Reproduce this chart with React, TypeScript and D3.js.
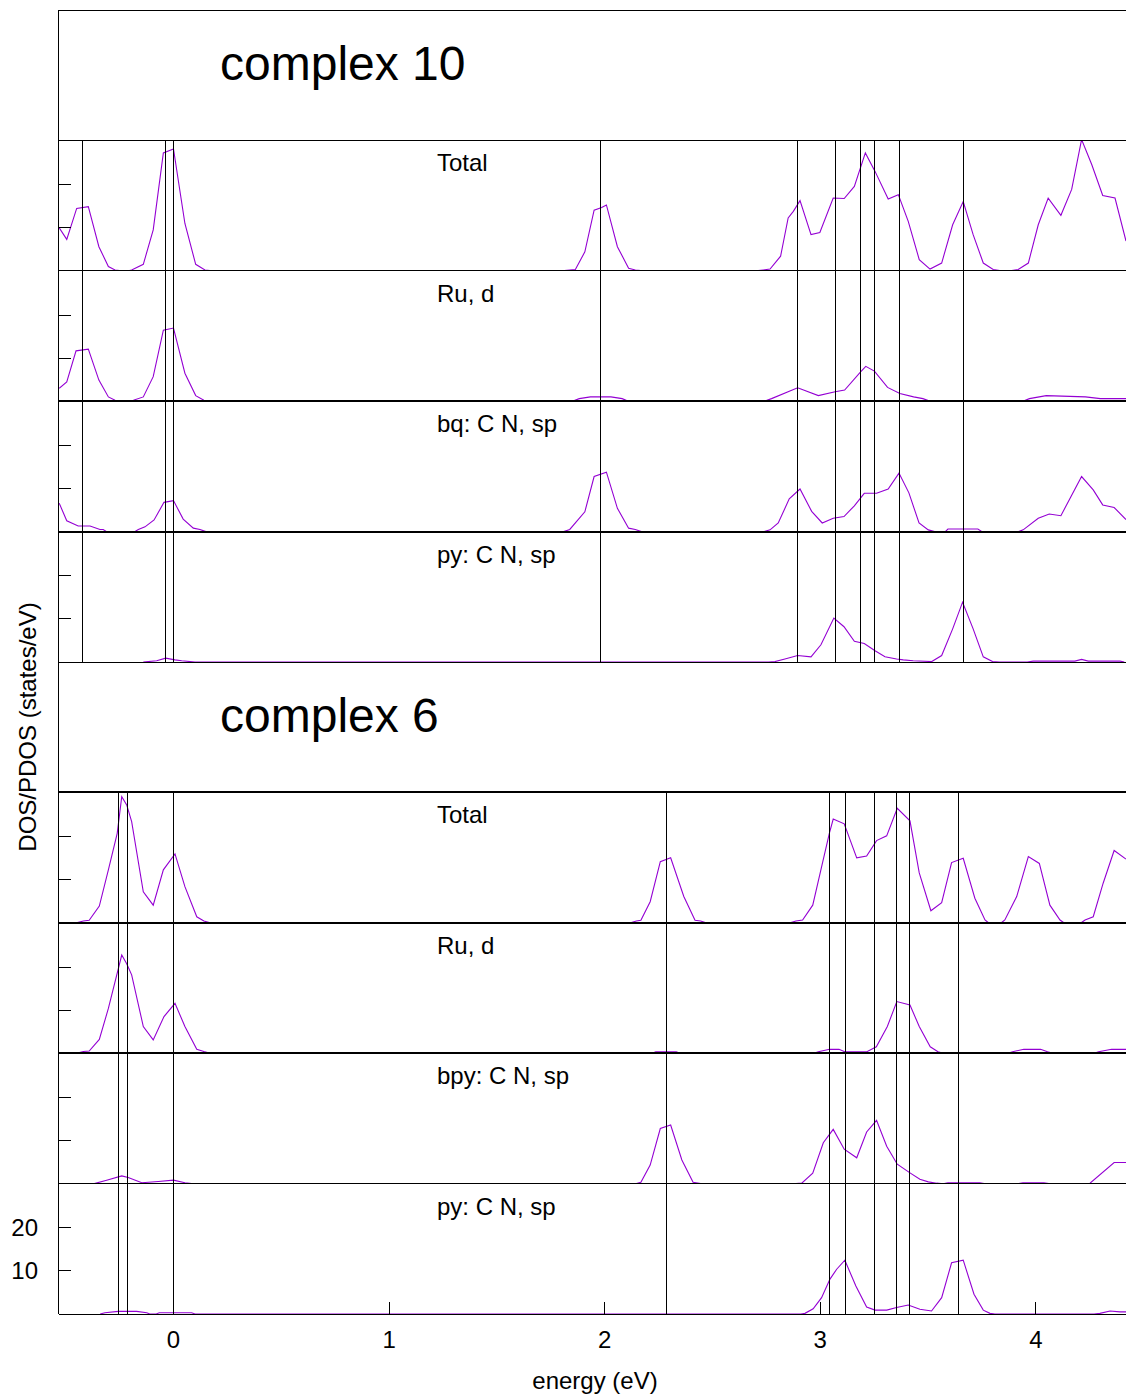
import React from 'react';
import * as d3 from 'd3';

type Pt = [number, number];

// ---------- tick / label data ----------
const energyTicks = [0, 1, 2, 3, 4];
const dosTicks = [10, 20];
const complexTitles = ['complex 10', 'complex 6'];
const c10Labels = ['Total', 'Ru, d', 'bq: C N, sp', 'py: C N, sp'];
const c6Labels = ['Total', 'Ru, d', 'bpy: C N, sp', 'py: C N, sp'];

// energy levels (eV) drawn as vertical lines
const c10Levels = [-0.421, -0.036, 0.0, 1.982, 2.896, 3.069, 3.187, 3.251, 3.369, 3.662];
const c6Levels = [-0.253, -0.212, 0.0, 2.289, 3.042, 3.118, 3.251, 3.354, 3.416, 3.641];

// ---------- complex 10 ----------
const c10Total: Pt[] = [
  [-0.530, 10.0], [-0.495, 7.3], [-0.449, 14.5], [-0.395, 14.9], [-0.346, 5.6], [-0.302, 1.0], [-0.271, 0.2], [-0.24, 0], [-0.21, 0],
  [-0.194, 0.2], [-0.140, 1.5], [-0.094, 9.5], [-0.047, 27.4], [0.000, 28.3], [0.053, 11.0], [0.103, 1.5], [0.146, 0.2], [0.18, 0],
  [1.80, 0], [1.838, 0.2], [1.864, 0.3], [1.908, 4.4], [1.951, 14.1], [1.986, 14.7], [2.008, 15.3], [2.059, 5.6], [2.111, 0.6], [2.142, 0.2], [2.18, 0],
  [2.70, 0], [2.735, 0.2], [2.767, 0.4], [2.816, 3.4], [2.851, 12.3], [2.875, 13.8], [2.906, 16.3], [2.957, 8.4], [2.998, 8.9], [3.060, 16.9],
  [3.111, 16.8], [3.158, 19.6], [3.209, 27.4], [3.254, 23.1], [3.315, 16.7], [3.362, 17.7], [3.408, 11.5], [3.459, 2.6], [3.509, 0.4],
  [3.563, 1.8], [3.614, 10.7], [3.663, 16.1], [3.709, 8.4], [3.756, 1.8], [3.802, 0.3], [3.84, 0], [3.88, 0], [3.918, 0.3], [3.965, 1.8],
  [4.011, 10.7], [4.057, 16.9], [4.116, 12.9], [4.166, 18.9], [4.212, 30.5], [4.259, 24.7], [4.310, 17.5], [4.367, 16.9], [4.418, 6.9],
];
const c10Ru: Pt[] = [
  [-0.530, 3.0], [-0.495, 4.5], [-0.452, 11.7], [-0.395, 12.1], [-0.346, 4.9], [-0.302, 1.0], [-0.271, 0.2], [-0.24, 0], [-0.20, 0],
  [-0.186, 0.2], [-0.140, 1.0], [-0.094, 5.7], [-0.047, 16.5], [0.000, 17.0], [0.053, 6.5], [0.103, 1.3], [0.141, 0.2], [0.17, 0],
  [1.85, 0], [1.882, 0.6], [1.934, 1.0], [2.029, 1.0], [2.081, 0.6], [2.11, 0],
  [2.74, 0], [2.774, 0.6], [2.895, 3.1], [2.991, 1.3], [3.069, 2.2], [3.113, 2.6], [3.187, 6.8], [3.211, 8.1], [3.251, 7.0], [3.312, 3.2],
  [3.369, 1.8], [3.433, 1.0], [3.476, 0.6], [3.51, 0],
  [3.94, 0], [3.970, 0.6], [4.048, 1.3], [4.230, 1.0], [4.299, 0.6], [4.418, 0.6],
];
const c10Bq: Pt[] = [
  [-0.530, 6.6], [-0.495, 2.5], [-0.442, 1.3], [-0.387, 1.3], [-0.341, 0.5], [-0.326, 0.5], [-0.31, 0], [-0.18, 0], [-0.163, 0.5],
  [-0.132, 1.1], [-0.090, 2.7], [-0.044, 6.8], [0.000, 7.2], [0.045, 2.9], [0.092, 0.8], [0.123, 0.5], [0.15, 0],
  [1.81, 0], [1.838, 0.5], [1.908, 4.6], [1.951, 12.8], [2.008, 13.8], [2.059, 5.4], [2.111, 0.8], [2.142, 0.5], [2.17, 0],
  [2.74, 0], [2.767, 0.4], [2.805, 2.0], [2.856, 7.6], [2.906, 9.9], [2.960, 4.7], [3.009, 2.0], [3.060, 3.1], [3.110, 3.5], [3.158, 6.0],
  [3.204, 8.9], [3.261, 8.9], [3.315, 9.9], [3.365, 13.6], [3.411, 9.0], [3.458, 2.0], [3.501, 0.4], [3.53, 0],
  [3.58, 0], [3.592, 0.6], [3.731, 0.6], [3.75, 0],
  [3.92, 0], [3.941, 0.4], [4.011, 3.1], [4.062, 4.1], [4.116, 3.7], [4.212, 12.8], [4.266, 9.7], [4.310, 6.2], [4.363, 5.6], [4.418, 2.8],
];
const c10Py: Pt[] = [
  [-0.14, 0], [-0.117, 0.1], [-0.078, 0.3], [-0.036, 0.9], [0.007, 0.5], [0.038, 0.3], [0.077, 0.1], [0.10, 0],
  [2.76, 0], [2.790, 0.1], [2.836, 0.7], [2.895, 1.5], [2.957, 1.2], [3.003, 4.0], [3.063, 10.2], [3.110, 8.2], [3.158, 4.8], [3.204, 4.3],
  [3.254, 2.6], [3.300, 1.2], [3.354, 0.7], [3.385, 0.5], [3.431, 0.3], [3.517, 0.1], [3.563, 1.5], [3.614, 7.7], [3.660, 13.9],
  [3.709, 7.7], [3.756, 1.2], [3.799, 0.1], [3.83, 0],
  [3.96, 0], [3.988, 0.2], [4.181, 0.2], [4.212, 0.6], [4.243, 0.2], [4.390, 0.2], [4.41, 0],
];

// ---------- complex 6 ----------
const c6Total: Pt[] = [
  [-0.45, 0], [-0.418, 0.4], [-0.391, 0.6], [-0.344, 3.9], [-0.302, 12.3], [-0.261, 20.8], [-0.240, 29.3], [-0.217, 27.4], [-0.194, 23.5],
  [-0.140, 7.2], [-0.094, 4.1], [-0.047, 12.3], [0.007, 16.0], [0.053, 8.4], [0.108, 1.4], [0.141, 0.4], [0.17, 0],
  [2.12, 0], [2.147, 0.4], [2.168, 0.6], [2.211, 4.9], [2.258, 14.2], [2.306, 15.1], [2.367, 6.1], [2.419, 0.6], [2.445, 0.4], [2.47, 0],
  [2.86, 0], [2.887, 0.4], [2.918, 0.65], [2.965, 4.1], [3.006, 13.0], [3.042, 20.8], [3.060, 24.1], [3.111, 23.0], [3.169, 15.1],
  [3.215, 15.5], [3.261, 19.1], [3.308, 20.2], [3.357, 26.6], [3.416, 23.7], [3.459, 11.6], [3.513, 2.8], [3.563, 4.7], [3.609, 14.0],
  [3.663, 15.0], [3.717, 5.7], [3.764, 0.65], [3.78, 0], [3.84, 0], [3.856, 0.65], [3.911, 6.1], [3.965, 15.4], [4.016, 13.8],
  [4.065, 4.1], [4.112, 0.65], [4.13, 0], [4.21, 0], [4.228, 0.65], [4.266, 1.4], [4.312, 9.2], [4.363, 16.8], [4.418, 14.8],
];
const c6Ru: Pt[] = [
  [-0.45, 0], [-0.418, 0.4], [-0.391, 0.5], [-0.344, 3.2], [-0.302, 10.4], [-0.261, 18.6], [-0.240, 22.8], [-0.217, 20.8], [-0.194, 18.2],
  [-0.140, 6.2], [-0.094, 3.1], [-0.044, 8.5], [0.007, 11.6], [0.053, 6.2], [0.108, 0.9], [0.141, 0.4], [0.17, 0],
  [2.22, 0], [2.237, 0.35], [2.332, 0.35], [2.35, 0],
  [2.97, 0], [2.991, 0.35], [3.043, 0.9], [3.087, 0.9], [3.113, 0.35], [3.216, 0.35], [3.260, 1.5], [3.311, 6.2], [3.355, 12.0],
  [3.416, 11.2], [3.459, 6.2], [3.510, 1.5], [3.546, 0.35], [3.57, 0],
  [3.87, 0], [3.892, 0.35], [3.944, 0.9], [4.022, 0.9], [4.054, 0.35], [4.08, 0],
  [4.27, 0], [4.291, 0.35], [4.351, 0.9], [4.418, 0.9],
];
const c6Bpy: Pt[] = [
  [-0.367, 0], [-0.310, 0.8], [-0.240, 1.8], [-0.210, 1.4], [-0.147, 0.2], [-0.070, 0.5], [0.000, 0.8], [0.053, 0.2], [0.084, 0],
  [2.147, 0], [2.168, 0.3], [2.211, 4.3], [2.258, 12.8], [2.306, 13.6], [2.358, 5.5], [2.410, 0.3], [2.445, 0],
  [2.887, 0], [2.914, 0.1], [2.965, 2.4], [3.014, 9.5], [3.060, 12.6], [3.111, 8.0], [3.169, 6.0], [3.215, 12.0], [3.261, 14.7],
  [3.308, 8.7], [3.357, 4.5], [3.416, 2.5], [3.462, 1.0], [3.501, 0.4], [3.540, 0.1], [3.56, 0],
  [3.575, 0], [3.592, 0.2], [3.740, 0.2], [3.76, 0],
  [3.92, 0], [3.940, 0.2], [4.037, 0.2], [4.06, 0],
  [4.24, 0], [4.251, 0.1], [4.363, 4.9], [4.418, 4.9],
];
const c6Py: Pt[] = [
  [-0.34, 0], [-0.318, 0.3], [-0.256, 0.6], [-0.171, 0.6], [-0.124, 0.3], [-0.11, 0], [-0.08, 0], [-0.066, 0.3], [0.084, 0.3], [0.10, 0],
  [2.91, 0], [2.929, 0.15], [2.967, 1.2], [3.006, 3.8], [3.045, 8.1], [3.076, 10.4], [3.114, 12.5], [3.165, 6.5], [3.215, 1.6],
  [3.254, 0.9], [3.308, 0.9], [3.354, 1.5], [3.408, 2.1], [3.462, 1.1], [3.516, 0.7], [3.563, 3.8], [3.609, 11.9], [3.663, 12.5],
  [3.713, 4.6], [3.756, 0.9], [3.787, 0.15], [3.81, 0],
  [4.27, 0], [4.297, 0.15], [4.344, 0.7], [4.390, 0.5], [4.418, 0.5],
];

// ---------- layout ----------
const W = 1126;
const H = 1399;
const LEFT = 59;
const TOP = 10;
const ROW = 130.4;
const PX_PER_EV = 215.6;
const E_MIN = -0.531;
const E_MAX = 4.5;
const Y_MAX = 30.3;
const FONT = '"Liberation Sans", Arial, Helvetica, sans-serif';
const PURPLE = '#9400d3';
const SMALL = 24;
const BIG = 48;
const borderWidths = [1, 1, 1, 2, 2, 1, 2, 2, 2, 1, 1];

export default function App() {
  const x = d3.scaleLinear().domain([E_MIN, E_MAX]).range([LEFT, LEFT + (E_MAX - E_MIN) * PX_PER_EV]);
  const rowTop = (i: number) => TOP + ROW * i;
  const yFor = (i: number) => d3.scaleLinear().domain([0, Y_MAX]).range([rowTop(i + 1), rowTop(i)]);

  const groups = [
    { title: complexTitles[0], titleRow: 0, labels: c10Labels, series: [c10Total, c10Ru, c10Bq, c10Py], levels: c10Levels },
    { title: complexTitles[1], titleRow: 5, labels: c6Labels, series: [c6Total, c6Ru, c6Bpy, c6Py], levels: c6Levels },
  ];

  const crisp1 = (v: number) => Math.floor(v) + 0.5;
  const lastRow = 9;

  return (
    <svg width={W} height={H} viewBox={`0 0 ${W} ${H}`}
      style={{ position: 'absolute', left: 0, top: 0, background: '#fff' }}
      fontFamily={FONT}>
      <rect x={0} y={0} width={W} height={H} fill="#fff" />
      <defs>
        {groups.map((g, gi) =>
          g.series.map((_, si) => {
            const r = g.titleRow + 1 + si;
            return (
              <clipPath id={`clip-${gi}-${si}`} key={`c-${gi}-${si}`}>
                <rect x={LEFT} y={rowTop(r)} width={W - LEFT} height={ROW} />
              </clipPath>
            );
          })
        )}
      </defs>

      {/* data curves */}
      {groups.map((g, gi) =>
        g.series.map((s, si) => {
          const r = g.titleRow + 1 + si;
          const y = yFor(r);
          const line = d3.line<Pt>().x((d) => x(d[0])).y((d) => y(d[1]));
          return (
            <path key={`s-${gi}-${si}`} d={line(s) || ''} fill="none" stroke={PURPLE}
              strokeWidth={1.1} clipPath={`url(#clip-${gi}-${si})`} strokeLinejoin="miter" />
          );
        })
      )}

      {/* energy level lines */}
      {groups.map((g, gi) => {
        const y0 = rowTop(g.titleRow + 1);
        const y1 = rowTop(g.titleRow + 5);
        return g.levels.map((e, li) => (
          <line key={`l-${gi}-${li}`} x1={crisp1(x(e))} x2={crisp1(x(e))} y1={y0} y2={y1}
            stroke="#000" strokeWidth={1} shapeRendering="crispEdges" />
        ));
      })}

      {/* horizontal panel borders */}
      {borderWidths.map((w, k) => {
        const yy = w === 1 ? crisp1(rowTop(k)) : Math.round(rowTop(k));
        return (
          <line key={`b-${k}`} x1={LEFT} x2={W} y1={yy} y2={yy} stroke="#000" strokeWidth={w}
            shapeRendering="crispEdges" />
        );
      })}
      {/* left border */}
      <line x1={58.5} x2={58.5} y1={TOP} y2={rowTop(10)} stroke="#000" strokeWidth={1} shapeRendering="crispEdges" />

      {/* y ticks in each data panel */}
      {groups.map((g, gi) =>
        g.series.map((_, si) => {
          const r = g.titleRow + 1 + si;
          const y = yFor(r);
          return dosTicks.map((t) => (
            <g key={`yt-${gi}-${si}-${t}`}>
              <line x1={LEFT} x2={LEFT + 12} y1={crisp1(y(t))} y2={crisp1(y(t))} stroke="#000"
                strokeWidth={1} shapeRendering="crispEdges" />
              {r === lastRow && (
                <text x={38} y={y(t) + 8} textAnchor="end" fontSize={SMALL} fill="#000">{t}</text>
              )}
            </g>
          ));
        })
      )}

      {/* x ticks */}
      {energyTicks.map((t) => (
        <g key={`xt-${t}`}>
          <line x1={crisp1(x(t))} x2={crisp1(x(t))} y1={rowTop(10)} y2={rowTop(10) - 12} stroke="#000"
            strokeWidth={1} shapeRendering="crispEdges" />
          <text x={x(t)} y={1348} textAnchor="middle" fontSize={SMALL} fill="#000">{t}</text>
        </g>
      ))}

      {/* titles */}
      {groups.map((g, gi) => (
        <text key={`t-${gi}`} x={220} y={rowTop(g.titleRow) + 70} fontSize={BIG} fill="#000">{g.title}</text>
      ))}

      {/* panel labels */}
      {groups.map((g, gi) =>
        g.labels.map((lab, li) => (
          <text key={`pl-${gi}-${li}`} x={437} y={rowTop(g.titleRow + 1 + li) + 31} fontSize={SMALL} fill="#000">{lab}</text>
        ))
      )}

      {/* axis labels */}
      <text x={595} y={1389} textAnchor="middle" fontSize={SMALL} fill="#000">energy (eV)</text>
      <text transform={`translate(36, 727) rotate(-90)`} textAnchor="middle" fontSize={SMALL} fill="#000">DOS/PDOS (states/eV)</text>
    </svg>
  );
}
